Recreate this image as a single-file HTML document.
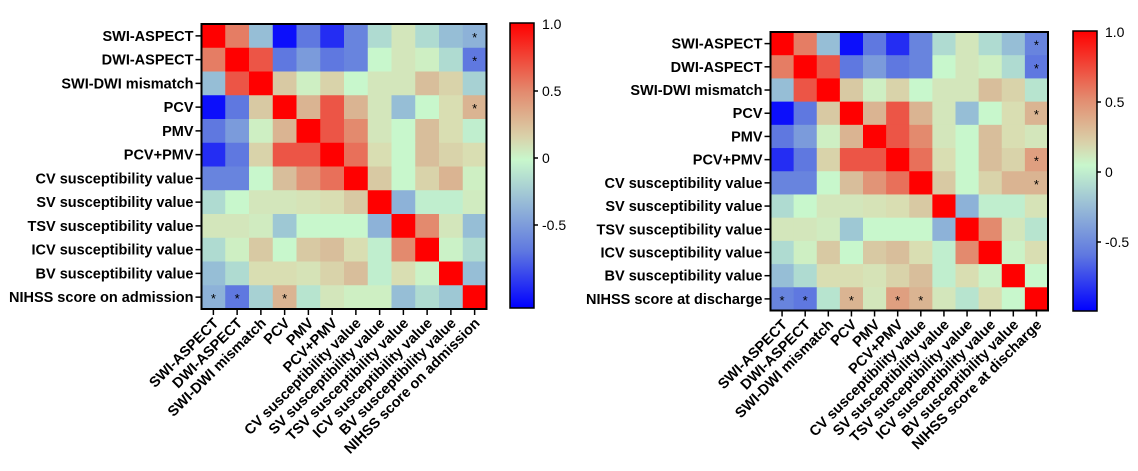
<!DOCTYPE html>
<html><head><meta charset="utf-8">
<style>
html,body{margin:0;padding:0;background:#fff;}
svg{display:block;font-family:"Liberation Sans",Arial,sans-serif;font-weight:bold;}
</style></head>
<body>
<svg id="chart" width="1138" height="471" viewBox="0 0 1138 471">
<defs>
<linearGradient id="cbgrad" x1="0" y1="0" x2="0" y2="1">
<stop offset="0" stop-color="#ff0000"/>
<stop offset="0.24" stop-color="#e38a6e"/>
<stop offset="0.40" stop-color="#d9d2aa"/>
<stop offset="0.48" stop-color="#c8f7cc"/>
<stop offset="0.62" stop-color="#9bbfd6"/>
<stop offset="0.80" stop-color="#5f78e0"/>
<stop offset="1" stop-color="#0000ff"/>
</linearGradient>
</defs>
</svg>
<script>
const labels1 = ["SWI-ASPECT","DWI-ASPECT","SWI-DWI mismatch","PCV","PMV","PCV+PMV","CV susceptibility value","SV susceptibility value","TSV susceptibility value","ICV susceptibility value","BV susceptibility value","NIHSS score on admission"];
const labels2 = ["SWI-ASPECT","DWI-ASPECT","SWI-DWI mismatch","PCV","PMV","PCV+PMV","CV susceptibility value","SV susceptibility value","TSV susceptibility value","ICV susceptibility value","BV susceptibility value","NIHSS score at discharge"];
const values1 = [
[1,.6,-.3,-.95,-.6,-.85,-.55,-.15,.1,-.15,-.3,-.35],
[.6,1,.75,-.6,-.45,-.6,-.55,0,.1,.05,-.15,-.6],
[-.3,.75,1,.25,.05,.2,0,.1,.1,.3,.2,-.2],
[-.95,-.6,.25,1,.35,.75,.35,.1,-.3,0,.15,.35],
[-.6,-.45,.05,.35,1,.75,.55,.1,0,.3,.15,-.05],
[-.85,-.6,.2,.75,.75,1,.65,.15,0,.3,.2,.15],
[-.55,-.55,0,.3,.5,.65,1,.25,0,.2,.35,.05],
[-.15,0,.1,.1,.12,.15,.25,1,-.35,-.05,-.05,.07],
[.1,.1,.07,-.25,0,0,0,-.35,1,.55,.1,-.3],
[-.15,.05,.25,0,.25,.3,.15,-.05,.55,1,.03,-.15],
[-.3,-.15,.15,.15,.12,.2,.3,-.05,.15,.03,1,-.3],
[-.35,-.6,-.2,.35,-.1,.1,.05,.05,-.3,-.15,-.25,1]];
const values2 = [
[1,.6,-.3,-.95,-.6,-.85,-.55,-.15,.1,-.15,-.3,-.55],
[.6,1,.75,-.6,-.45,-.6,-.55,0,.1,.05,-.15,-.6],
[-.3,.75,1,.25,.05,.2,0,.1,.1,.3,.2,-.1],
[-.95,-.6,.25,1,.35,.75,.35,.1,-.3,0,.15,.35],
[-.6,-.45,.05,.35,1,.75,.55,.1,0,.3,.15,.1],
[-.85,-.6,.2,.75,.75,1,.65,.15,0,.3,.2,.45],
[-.55,-.55,0,.3,.5,.65,1,.25,0,.2,.35,.35],
[-.15,0,.1,.1,.12,.15,.25,1,-.35,-.05,-.05,.12],
[.1,.1,.07,-.25,0,0,0,-.35,1,.55,.1,-.1],
[-.15,.05,.25,0,.25,.3,.15,-.05,.55,1,.03,.15],
[-.3,-.15,.15,.15,.12,.2,.3,-.05,.15,.03,1,0],
[-.55,-.6,-.1,.35,.1,.45,.35,.1,-.1,.15,0,1]];
const stars1 = [[0,11],[1,11],[3,11],[11,0],[11,1],[11,3]];
const stars2 = [[0,11],[1,11],[3,11],[5,11],[6,11],[11,0],[11,1],[11,3],[11,5],[11,6]];
const cbTicks = [1.0,0.5,0,-0.5];
const cbTickText = ["1.0","0.5","0","-0.5"];

const NS="http://www.w3.org/2000/svg";
const svg=document.getElementById('chart');
function mk(tag,attrs,parent){const e=document.createElementNS(NS,tag);for(const k in attrs)e.setAttribute(k,attrs[k]);(parent||svg).appendChild(e);return e;}
const stops=[[-1,[0,0,255]],[-0.6,[95,120,224]],[-0.3,[150,190,214]],[0,[200,247,204]],[0.15,[217,222,178]],[0.3,[216,190,155]],[0.55,[227,138,110]],[0.75,[236,85,70]],[1,[255,0,0]]];
function color(v){v=Math.max(-1,Math.min(1,v));for(let i=0;i<stops.length-1;i++){const[a,ca]=stops[i],[b,cb]=stops[i+1];if(v<=b){const t=(v-a)/(b-a);return 'rgb('+ca.map((c,j)=>Math.round(c+(cb[j]-c)*t)).join(',')+')';}}return 'rgb(255,0,0)';}

function heatmap(cfg){
  const n=cfg.labels.length, cw=(cfg.x1-cfg.x0)/n, ch=(cfg.y1-cfg.y0)/n;
  const g=mk('g',{});
  
  
  cfg.values.forEach((row,r)=>row.forEach((v,c)=>{
    const cell=mk('rect',{x:cfg.x0+c*cw,y:cfg.y0+r*ch,width:cw+0.5,height:ch+0.5,fill:color(v)},g);
    
    
  }));
  cfg.stars.forEach(([r,c])=>{
    const s=mk('text',{x:cfg.x0+(c+0.5)*cw,y:cfg.y0+(r+0.5)*ch+6,'text-anchor':'middle','font-size':'13','font-weight':'normal'},g);
    s.textContent='*';
    
    
  });
  mk('rect',{x:cfg.x0,y:cfg.y0,width:cfg.x1-cfg.x0,height:cfg.y1-cfg.y0,fill:'none',stroke:'#000','stroke-width':2},g);
  cfg.labels.forEach((l,i)=>{
    const yc=cfg.y0+(i+0.5)*ch;
    mk('line',{x1:cfg.x0-6,x2:cfg.x0,y1:yc,y2:yc,stroke:'#000','stroke-width':1.5},g);
    const t=mk('text',{x:cfg.x0-8,y:yc+5,'text-anchor':'end','font-size':'14.5'},g);
    t.textContent=l;
    
    
    const xc=cfg.x0+(i+0.5)*cw;
    mk('line',{x1:xc,x2:xc,y1:cfg.y1,y2:cfg.y1+6,stroke:'#000','stroke-width':1.5},g);
    const ax=xc+6, ay=cfg.y1+15;
    const tx=mk('text',{x:ax,y:ay,'text-anchor':'end','font-size':'14.5',transform:'rotate(-45 '+ax+' '+ay+')'},g);
    tx.textContent=l;
    
    
  });
  const cb=mk('g',{});
  
  
  mk('rect',{x:cfg.cbx,y:cfg.cby0,width:24,height:cfg.cby1-cfg.cby0,fill:'url(#cbgrad)',stroke:'#000','stroke-width':1.5},cb);
  cbTicks.forEach((v,i)=>{
    const y=cfg.cbyTop+(1-v)*cfg.cbPer;
    if(i>0) mk('line',{x1:cfg.cbx+24,x2:cfg.cbx+28,y1:y,y2:y,stroke:'#000','stroke-width':1.5},cb);
    const t=mk('text',{x:cfg.cbx+32,y:y+5,'font-size':'14','font-weight':'normal'},cb);
    t.textContent=cbTickText[i];
    
    
  });
}
heatmap({name:'heatmap-admission',labels:labels1,values:values1,stars:stars1,x0:201.5,x1:486.5,y0:24,y1:309,cbx:510,cby0:23,cby1:308,cbyTop:24,cbPer:134});
heatmap({name:'heatmap-discharge',labels:labels2,values:values2,stars:stars2,x0:770.5,x1:1048,y0:32,y1:310.5,cbx:1073,cby0:31,cby1:311,cbyTop:32,cbPer:140});
</script>
</body></html>
